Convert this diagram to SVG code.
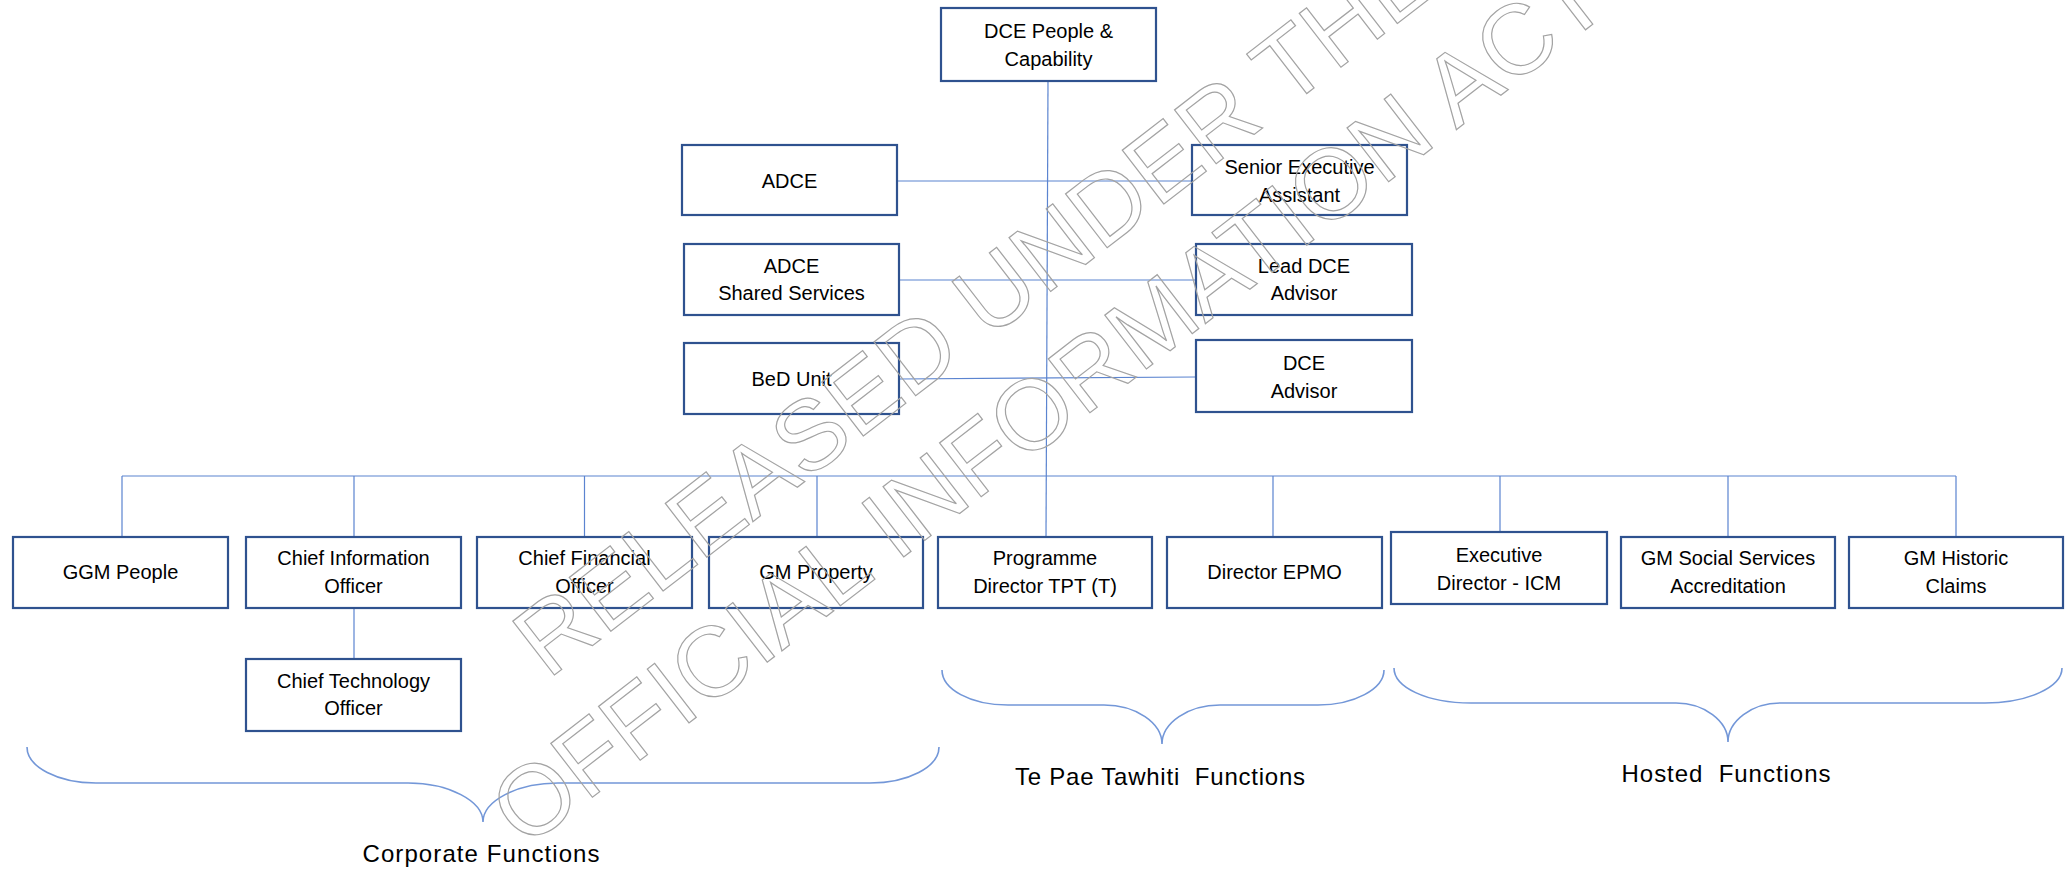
<svg xmlns="http://www.w3.org/2000/svg" width="2071" height="870" viewBox="0 0 2071 870">
<style>
.box{fill:#fff;stroke:#2F528F;stroke-width:2.2}
.t{font-family:"Liberation Sans",Arial,sans-serif;font-size:20px;fill:#000;text-anchor:middle}
.lbl{font-family:"Liberation Sans",Arial,sans-serif;font-size:24px;fill:#000;text-anchor:middle;white-space:pre}
.ln{stroke:#5B84D0;stroke-width:1.2;fill:none}
.br{stroke:#7397D8;stroke-width:1.6;fill:none}
.wm{font-family:"Liberation Sans",Arial,sans-serif;font-size:99px;fill:none;stroke:#a3a3a3;stroke-width:1.2;text-anchor:middle}
</style>
<rect width="2071" height="870" fill="#fff"/>
<g id="connectors">
<path class="ln" d="M1048,81 L1046,537"/>
<path class="ln" d="M897,181 L1192,181"/>
<path class="ln" d="M899,280 L1196,280"/>
<path class="ln" d="M899,379 L1196,377"/>
<path class="ln" d="M122,476 L1956,476"/>
<path class="ln" d="M122,476 L122,537 M354,476 L354,537 M584.5,476 L584.5,537 M817,476 L817,537 M1273,476 L1273,537 M1500,476 L1500,532 M1728,476 L1728,537 M1956,476 L1956,537"/>
<path class="ln" d="M354,608 L354,659"/>
</g>
<g id="braces">
<path class="br" d="M27,747 C27,767 58,783 96,783 L408,783 C449,783 483,801 483,822 C483,801 517,783 558,783 L870,783 C908,783 939,767 939,747"/>
<path class="br" d="M942,670 C942,689 970,705 1008,705 L1104,705 C1136,705 1162,723 1162,744 C1162,723 1188,705 1220,705 L1318,705 C1354,705 1384,689 1384,670"/>
<path class="br" d="M1394,668 C1394,687 1426,703 1471,703 L1676,703 C1704,703 1728,721 1728,742 C1728,721 1752,703 1780,703 L1985,703 C2028,703 2062,687 2062,668"/>
</g>
<g id="n-dce"><rect class="box" x="941" y="8" width="215" height="73"/><text class="t" x="1048.5" y="38">DCE People &amp;</text><text class="t" x="1048.5" y="66">Capability</text></g>
<g id="n-adce"><rect class="box" x="682" y="145" width="215" height="70"/><text class="t" x="789.5" y="188">ADCE</text></g>
<g id="n-sea"><rect class="box" x="1192" y="145" width="215" height="70"/><text class="t" x="1299.5" y="174">Senior Executive</text><text class="t" x="1299.5" y="202">Assistant</text></g>
<g id="n-adce-ss"><rect class="box" x="684" y="244" width="215" height="71"/><text class="t" x="791.5" y="273">ADCE</text><text class="t" x="791.5" y="300">Shared Services</text></g>
<g id="n-lead"><rect class="box" x="1196" y="244" width="216" height="71"/><text class="t" x="1304" y="273">Lead DCE</text><text class="t" x="1304" y="300">Advisor</text></g>
<g id="n-bed"><rect class="box" x="684" y="343" width="215" height="71"/><text class="t" x="791.5" y="386">BeD Unit</text></g>
<g id="n-dcea"><rect class="box" x="1196" y="340" width="216" height="72"/><text class="t" x="1304" y="370">DCE</text><text class="t" x="1304" y="398">Advisor</text></g>
<g id="n-ggm"><rect class="box" x="13" y="537" width="215" height="71"/><text class="t" x="120.5" y="579">GGM People</text></g>
<g id="n-cio"><rect class="box" x="246" y="537" width="215" height="71"/><text class="t" x="353.5" y="565">Chief Information</text><text class="t" x="353.5" y="593">Officer</text></g>
<g id="n-cfo"><rect class="box" x="477" y="537" width="215" height="71"/><text class="t" x="584.5" y="565">Chief Financial</text><text class="t" x="584.5" y="593">Officer</text></g>
<g id="n-gmp"><rect class="box" x="709" y="537" width="214" height="71"/><text class="t" x="816" y="579">GM Property</text></g>
<g id="n-pd"><rect class="box" x="938" y="537" width="214" height="71"/><text class="t" x="1045" y="565">Programme</text><text class="t" x="1045" y="593">Director TPT (T)</text></g>
<g id="n-epmo"><rect class="box" x="1167" y="537" width="215" height="71"/><text class="t" x="1274.5" y="579">Director EPMO</text></g>
<g id="n-icm"><rect class="box" x="1391" y="532" width="216" height="72"/><text class="t" x="1499" y="562">Executive</text><text class="t" x="1499" y="590">Director - ICM</text></g>
<g id="n-gmss"><rect class="box" x="1621" y="537" width="214" height="71"/><text class="t" x="1728" y="565">GM Social Services</text><text class="t" x="1728" y="593">Accreditation</text></g>
<g id="n-gmhc"><rect class="box" x="1849" y="537" width="214" height="71"/><text class="t" x="1956" y="565">GM Historic</text><text class="t" x="1956" y="593">Claims</text></g>
<g id="n-cto"><rect class="box" x="246" y="659" width="215" height="72"/><text class="t" x="353.5" y="688">Chief Technology</text><text class="t" x="353.5" y="715">Officer</text></g>
<g id="labels">
<text class="lbl" x="481" y="862" textLength="237">Corporate Functions</text>
<text class="lbl" x="1160" y="785" textLength="290">Te Pae Tawhiti  Functions</text>
<text class="lbl" x="1726" y="782" textLength="209">Hosted  Functions</text>
</g>
<g id="watermark" transform="translate(1069,429) rotate(-37.7)">
<text class="wm" x="0" y="-120">RELEASED UNDER THE</text>
<text class="wm" x="0" y="0">OFFICIAL INFORMATION ACT</text>
</g>
</svg>
